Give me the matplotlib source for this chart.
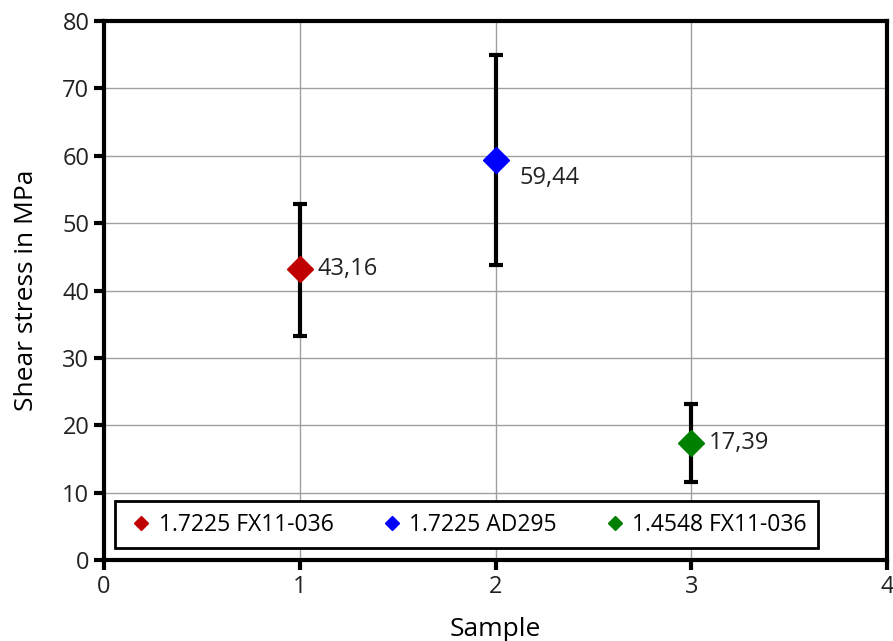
import numpy as np
import matplotlib.pyplot as plt

plt.rcParams['font.family'] = ['Open Sans', 'DejaVu Sans']

# data
samples = [1, 2, 3]
names = ['1.7225 FX11-036', '1.7225 AD295', '1.4548 FX11-036']
means = [43.16, 59.44, 17.39]
err_low = [43.16 - 33.3, 59.44 - 43.8, 17.39 - 11.6]
err_high = [52.9 - 43.16, 75.0 - 59.44, 23.1 - 17.39]
colors = ['#c00000', '#0000ff', '#008000']
value_labels = ['43,16', '59,44', '17,39']
label_offsets = [(13, 0), (17, -13), (13, 0)]

fig = plt.figure(figsize=(8.93, 6.41), dpi=100)
ax = fig.add_axes([104/893, 1 - 560/641, (887-104)/893, (560-21)/641])

for i in range(len(samples)):
    ax.errorbar(samples[i], means[i], yerr=[[err_low[i]], [err_high[i]]],
                fmt='none', ecolor='black', elinewidth=3, capsize=5, capthick=3, zorder=3)
    ax.plot(samples[i], means[i], 'D', color=colors[i], markersize=13.5, label=names[i], zorder=4)
    ax.annotate(value_labels[i], (samples[i], means[i]), xytext=label_offsets[i],
                textcoords='offset points', va='center', ha='left', fontsize=17, color='#222222')

ax.set_xlim(0, 4)
ax.set_ylim(0, 80)
ax.set_xticks(np.arange(0, 5, 1))
ax.set_yticks(np.arange(0, 90, 10))
ax.grid(True, color='#a0a0a0', linewidth=1)
ax.set_axisbelow(True)
for s in ax.spines.values():
    s.set_linewidth(3)
ax.tick_params(direction='out', length=7, width=3, labelsize=17, colors='black', labelcolor='#222222')
ax.set_xlabel('Sample', fontsize=19, labelpad=13)
ax.set_ylabel('Shear stress in MPa', fontsize=19, labelpad=17)

leg = ax.legend(loc='lower left', bbox_to_anchor=(0.014, 0.022), borderaxespad=0, ncol=3, fontsize=16.5,
                frameon=True, fancybox=False, edgecolor='black', framealpha=1,
                markerscale=0.55, handletextpad=0.1, columnspacing=1.9, borderpad=0.5, handlelength=1.3)
leg.get_frame().set_linewidth(2)

fig.savefig('out.png', dpi=100)
